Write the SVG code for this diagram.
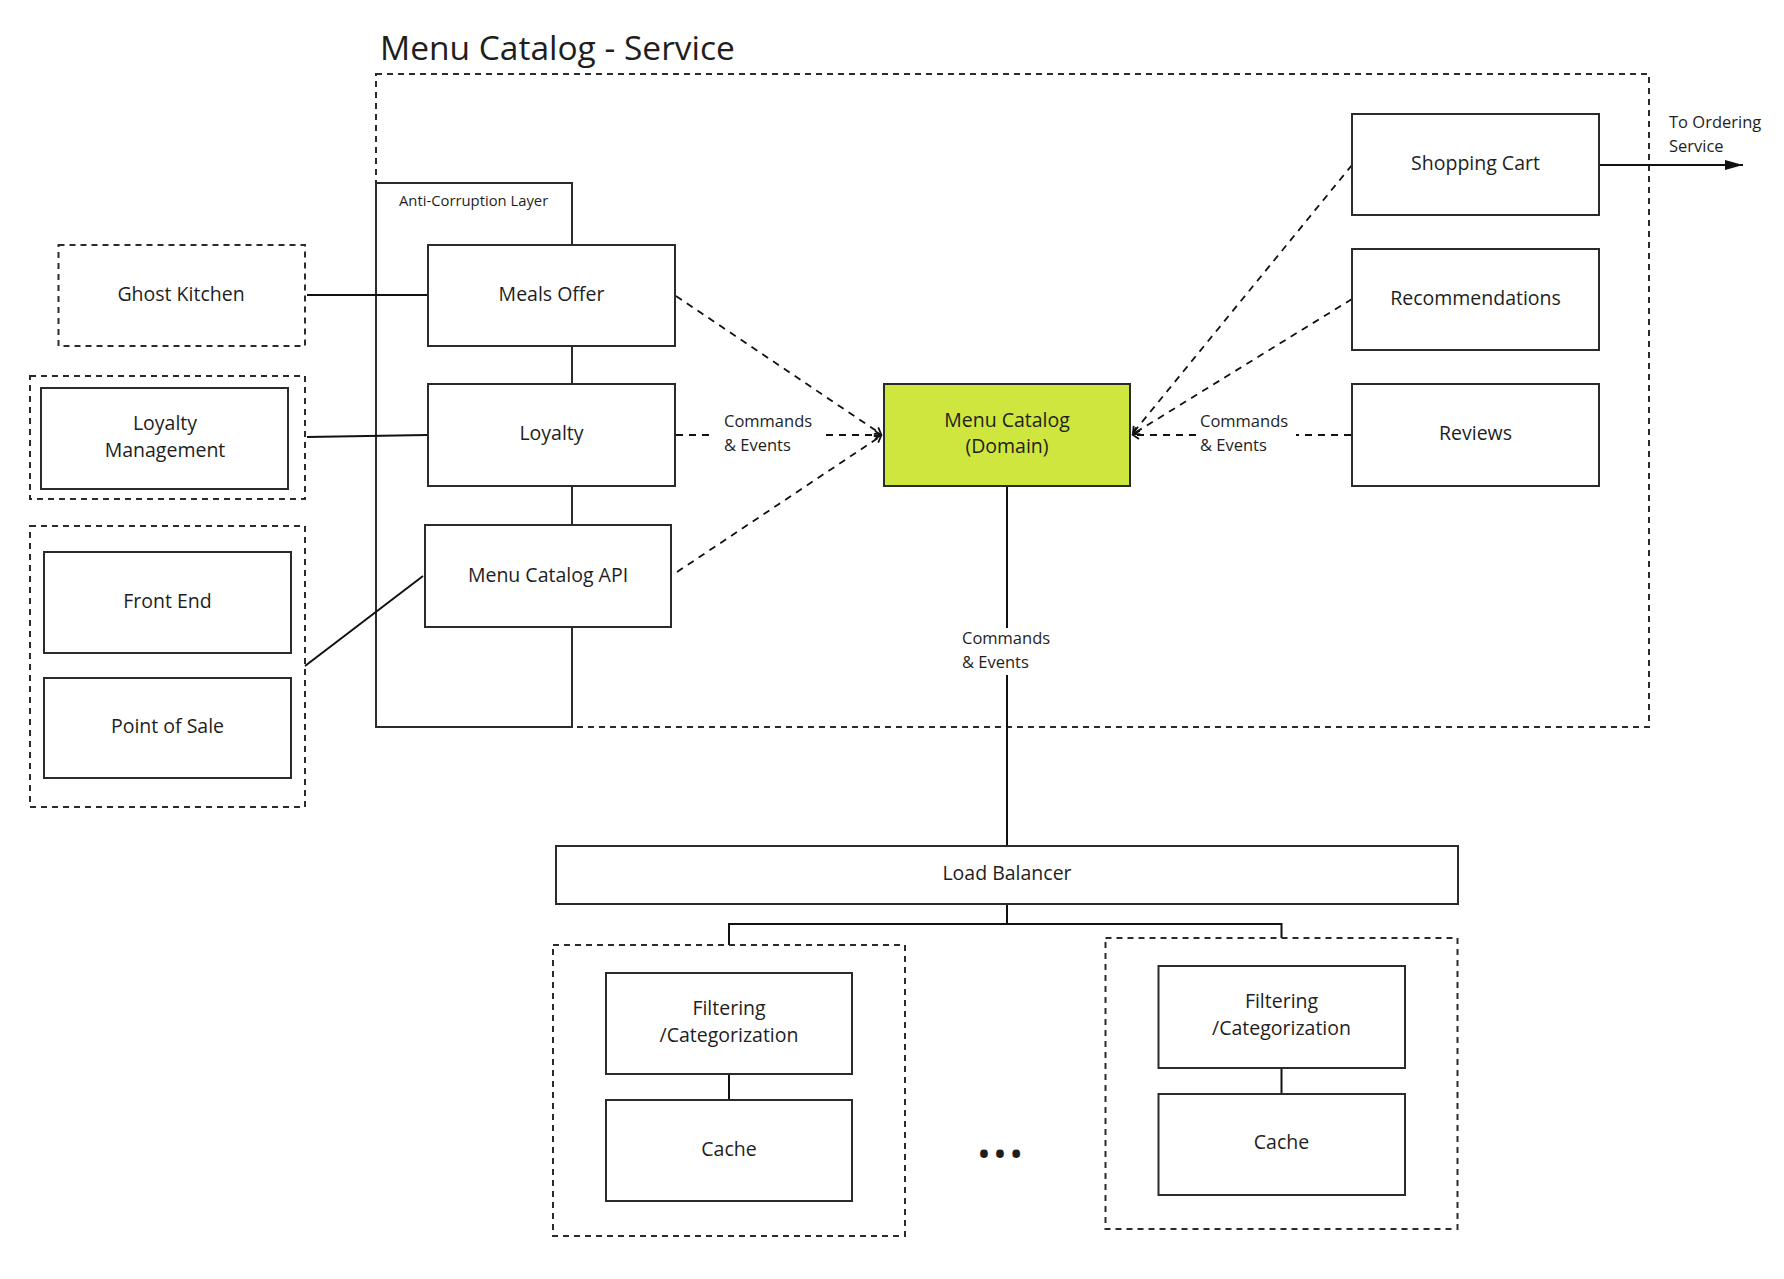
<svg xmlns="http://www.w3.org/2000/svg" width="1784" height="1279" viewBox="0 0 1784 1279">
<style>
text { font-family: "Open Sans", "Liberation Sans", sans-serif; fill: #1e1e1e; }
.box { fill: #fff; stroke: #2b2b2b; stroke-width: 2; }
.dom { fill: #cfe63e; stroke: #2b2b2b; stroke-width: 2; }
.dbox { fill: none; stroke: #2b2b2b; stroke-width: 2; stroke-dasharray: 6 5; }
.dnode { fill: #fff; stroke: #2b2b2b; stroke-width: 2; stroke-dasharray: 6 5; }
.acl { fill: none; stroke: #2b2b2b; stroke-width: 2; }
.lbl { font-size: 19.5px; text-anchor: middle; }
.sm { font-size: 16.5px; }
.conn { fill: none; stroke: #111; stroke-width: 2; }
.dconn { fill: none; stroke: #111; stroke-width: 1.8; stroke-dasharray: 7 6; }
</style>
<defs>
<marker id="open" markerUnits="userSpaceOnUse" markerWidth="12" markerHeight="12" refX="7" refY="5" orient="auto"><path d="M1,1 L7,5 L1,9" fill="none" stroke="#111" stroke-width="1.8"/></marker>
<marker id="solid" markerUnits="userSpaceOnUse" markerWidth="20" markerHeight="12" refX="18" refY="5" orient="auto"><path d="M0,0 L18,5 L0,10 Z" fill="#111"/></marker>
</defs>
<rect x="0" y="0" width="1784" height="1279" fill="#fff"/>

<g id="service-boundary">
<text x="380" y="60" style="font-size:33.5px">Menu Catalog - Service</text>
<rect class="dbox" x="376" y="74" width="1273" height="653"/>
</g>
<g id="anti-corruption-layer">
<rect class="acl" x="376" y="183" width="196" height="544"/>
<text x="399" y="206" style="font-size:14.8px">Anti-Corruption Layer</text>
</g>

<g id="connectors">
<path class="conn" d="M307,295 L427,295"/>
<path class="conn" d="M307,437 L427,435"/>
<path class="conn" d="M305,666 L423,576"/>
<path class="dconn" d="M676,296 L881,434" marker-end="url(#open)"/>
<path class="dconn" d="M676,435 L715,435"/>
<path class="dconn" d="M826,435 L881,435" marker-end="url(#open)"/>
<text class="sm" x="724" y="427">Commands</text>
<text class="sm" x="724" y="451">&amp; Events</text>
<path class="dconn" d="M677,572 L881,436" marker-end="url(#open)"/>
<path class="dconn" d="M1352,165 L1133,433" marker-end="url(#open)"/>
<path class="dconn" d="M1352,299 L1133,434" marker-end="url(#open)"/>
<path class="dconn" d="M1351,435 L1296,435"/>
<path class="dconn" d="M1196,435 L1133,435" marker-end="url(#open)"/>
<text class="sm" x="1200" y="427">Commands</text>
<text class="sm" x="1200" y="451">&amp; Events</text>
<path class="conn" d="M1600,165 L1743,165" marker-end="url(#solid)"/>
<text class="sm" x="1669" y="128">To Ordering</text>
<text class="sm" x="1669" y="152">Service</text>
<path class="conn" d="M1007,486 L1007,628"/>
<path class="conn" d="M1007,675 L1007,846"/>
<text class="sm" x="962" y="644">Commands</text>
<text class="sm" x="962" y="668">&amp; Events</text>
<path class="conn" d="M1007,904 L1007,924"/>
<path class="conn" d="M729,945 L729,924 L1281.5,924 L1281.5,938"/>
<path class="conn" d="M729,1074 L729,1100"/>
<path class="conn" d="M1281.5,1068 L1281.5,1094"/>
</g>

<g id="ghost-kitchen">
<rect class="dnode" x="58.5" y="245" width="246.5" height="101"/>
<text class="lbl" x="181" y="301">Ghost Kitchen</text>
</g>
<g id="loyalty-management-group">
<rect class="dbox" x="30" y="376" width="275" height="123"/>
</g>
<g id="loyalty-management">
<rect class="box" x="41" y="388" width="247" height="101"/>
<text class="lbl" x="165" y="430">Loyalty</text>
<text class="lbl" x="165" y="457">Management</text>
</g>
<g id="clients-group">
<rect class="dbox" x="30" y="526" width="275" height="281"/>
</g>
<g id="front-end">
<rect class="box" x="44" y="552" width="247" height="101"/>
<text class="lbl" x="167.5" y="608">Front End</text>
</g>
<g id="point-of-sale">
<rect class="box" x="44" y="678" width="247" height="100"/>
<text class="lbl" x="167.5" y="733">Point of Sale</text>
</g>

<g id="meals-offer">
<rect class="box" x="428" y="245" width="247" height="101"/>
<text class="lbl" x="551.5" y="301">Meals Offer</text>
</g>
<g id="loyalty">
<rect class="box" x="428" y="384" width="247" height="102"/>
<text class="lbl" x="551.5" y="440">Loyalty</text>
</g>
<g id="menu-catalog-api">
<rect class="box" x="425" y="525" width="246" height="102"/>
<text class="lbl" x="548" y="582">Menu Catalog API</text>
</g>

<g id="menu-catalog-domain">
<rect class="dom" x="884" y="384" width="246" height="102"/>
<text class="lbl" x="1007" y="427">Menu Catalog</text>
<text class="lbl" x="1007" y="453">(Domain)</text>
</g>

<g id="shopping-cart">
<rect class="box" x="1352" y="114" width="247" height="101"/>
<text class="lbl" x="1475.5" y="170">Shopping Cart</text>
</g>
<g id="recommendations">
<rect class="box" x="1352" y="249" width="247" height="101"/>
<text class="lbl" x="1475.5" y="305">Recommendations</text>
</g>
<g id="reviews">
<rect class="box" x="1352" y="384" width="247" height="102"/>
<text class="lbl" x="1475.5" y="440">Reviews</text>
</g>

<g id="load-balancer">
<rect class="box" x="556" y="846" width="902" height="58"/>
<text class="lbl" x="1007" y="880">Load Balancer</text>
</g>

<g id="instance-1">
<rect class="dbox" x="553" y="945" width="352" height="291"/>
</g>
<g id="filtering-1">
<rect class="box" x="606" y="973" width="246" height="101"/>
<text class="lbl" x="729" y="1015">Filtering</text>
<text class="lbl" x="729" y="1042">/Categorization</text>
</g>
<g id="cache-1">
<rect class="box" x="606" y="1100" width="246" height="101"/>
<text class="lbl" x="729" y="1156">Cache</text>
</g>

<g id="ellipsis">
<text x="977" y="1166.5" style="font-size:37px;letter-spacing:2.2px">•••</text>
</g>

<g id="instance-n">
<rect class="dbox" x="1105.5" y="938" width="352" height="291"/>
</g>
<g id="filtering-n">
<rect class="box" x="1158.5" y="966" width="246.5" height="102"/>
<text class="lbl" x="1281.5" y="1008">Filtering</text>
<text class="lbl" x="1281.5" y="1035">/Categorization</text>
</g>
<g id="cache-n">
<rect class="box" x="1158.5" y="1094" width="246.5" height="101"/>
<text class="lbl" x="1281.5" y="1149">Cache</text>
</g>
</svg>
